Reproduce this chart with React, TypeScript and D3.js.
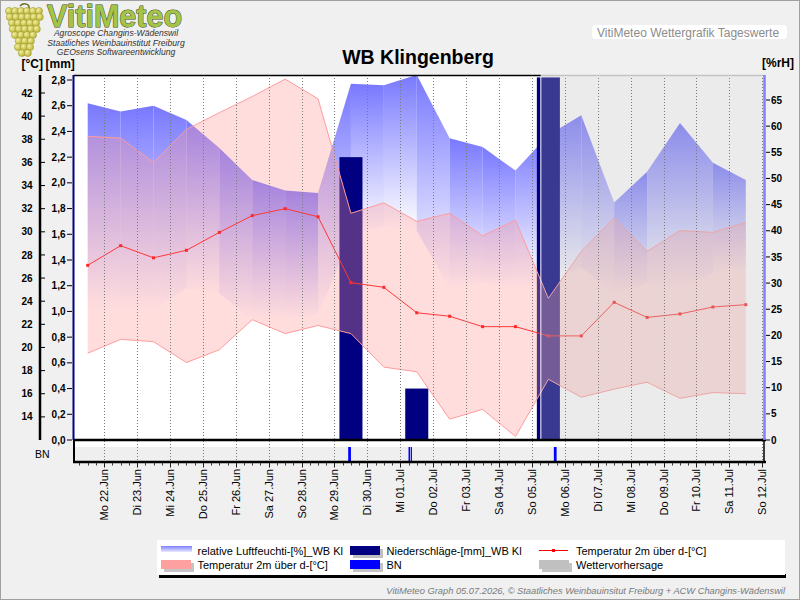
import React, { useEffect, useRef } from "react";
import * as d3 from "d3";

// Tageswerte WB Klingenberg, 21.06. - 11.07.
const days = [
  "2026-06-21", "2026-06-22", "2026-06-23", "2026-06-24", "2026-06-25", "2026-06-26", "2026-06-27",
  "2026-06-28", "2026-06-29", "2026-06-30", "2026-07-01", "2026-07-02", "2026-07-03", "2026-07-04",
  "2026-07-05", "2026-07-06", "2026-07-07", "2026-07-08", "2026-07-09", "2026-07-10", "2026-07-11",
];
const tempMean = [27.1, 28.8, 27.75, 28.4, 29.95, 31.4, 32.0, 31.3, 25.6, 25.2, 23.0, 22.7, 21.8, 21.8, 21.0, 21.0, 23.9, 22.6, 22.9, 23.5, 23.7];
const tempMax = [38.25, 38.1, 36.0, 38.85, 40.3, 41.7, 43.2, 41.5, 31.6, 32.5, 30.9, 31.6, 29.65, 31.0, 24.25, 28.3, 31.2, 28.3, 30.1, 29.95, 30.8];
const tempMin = [19.5, 20.7, 20.5, 18.7, 19.8, 22.4, 21.2, 21.9, 21.2, 18.3, 17.9, 13.8, 14.65, 12.3, 17.25, 15.7, 16.4, 17.0, 15.6, 16.1, 16.0];
const humMax = [64.4, 62.8, 63.9, 61.2, 55.8, 49.7, 47.7, 47.2, 68.1, 67.8, 69.8, 57.7, 56.0, 51.5, 58.3, 62.1, 45.4, 51.3, 60.6, 53.0, 49.7];
const humMin = [25, 25, 25, 29, 28, 23, 23, 24, 39, 41, 40, 29, 30, 29, 30, 33, 28, 30, 29, 32, 33];
const precip = [0, 0, 0, 0, 0, 0, 0, 0, 2.2, 0, 0.4, 0, 0, 0, 2.82, 0, 0, 0, 0, 0, 0];

// Blattnaesse (BN) Ereignisse
const bnEvents = [
  ["2026-06-29 10:00", "2026-06-29 12:00"],
  ["2026-07-01 06:00", "2026-07-01 07:15"],
  ["2026-07-01 07:45", "2026-07-01 08:30"],
  ["2026-07-05 16:00", "2026-07-05 18:00"],
];
const forecastStart = "2026-07-05 06:30";

const dayTicks = [
  "2026-06-22", "2026-06-23", "2026-06-24", "2026-06-25", "2026-06-26", "2026-06-27", "2026-06-28",
  "2026-06-29", "2026-06-30", "2026-07-01", "2026-07-02", "2026-07-03", "2026-07-04", "2026-07-05",
  "2026-07-06", "2026-07-07", "2026-07-08", "2026-07-09", "2026-07-10", "2026-07-11", "2026-07-12",
];
const dayLabels = [
  "Mo 22.Jun", "Di 23.Jun", "Mi 24.Jun", "Do 25.Jun", "Fr 26.Jun", "Sa 27.Jun", "So 28.Jun",
  "Mo 29.Jun", "Di 30.Jun", "Mi 01.Jul", "Do 02.Jul", "Fr 03.Jul", "Sa 04.Jul", "So 05.Jul",
  "Mo 06.Jul", "Di 07.Jul", "Mi 08.Jul", "Do 09.Jul", "Fr 10.Jul", "Sa 11.Jul", "So 12.Jul",
];
const tempTicks = [14, 16, 18, 20, 22, 24, 26, 28, 30, 32, 34, 36, 38, 40, 42];
const mmTicks = [0, 0.2, 0.4, 0.6, 0.8, 1.0, 1.2, 1.4, 1.6, 1.8, 2.0, 2.2, 2.4, 2.6, 2.8];
const humTicks = [0, 5, 10, 15, 20, 25, 30, 35, 40, 45, 50, 55, 60, 65];

const legendRow1 = ["relative Luftfeuchti-[%]_WB Kl", "Niederschläge-[mm]_WB Kl", "Temperatur 2m über d-[°C]"];
const legendRow2 = ["Temperatur 2m über d-[°C]", "BN", "Wettervorhersage"];

const FONT = "'Liberation Sans', Arial, sans-serif";

const App = () => {
  const ref = useRef<SVGSVGElement>(null);

  useEffect(() => {
    document.body.style.margin = "0";
    drawGraph();
  }, []);

  const drawGraph = () => {
    const svg = d3.select(ref.current);
    svg.selectAll("*").remove();
    svg.attr("font-family", FONT);

    const L = 74, R = 765, T = 75, B = 440, SB = 462;
    const parseDay = d3.timeParse("%Y-%m-%d");
    const parseTime = d3.timeParse("%Y-%m-%d %H:%M");
    const noon = (s: string) => d3.timeHour.offset(parseDay(s), 12);

    const x = d3.scaleTime()
      .domain([parseTime("2026-06-21 02:00"), parseTime("2026-07-12 02:00")])
      .range([L, R]);
    const yT = d3.scaleLinear().domain([12, 42]).range([B, 93]);
    const yMm = d3.scaleLinear().domain([0, 2.8]).range([B, 80]);
    const yH = d3.scaleLinear().domain([0, 65]).range([B, 100]);

    // background
    svg.append("rect").attr("x", 0.5).attr("y", 0.5).attr("width", 799).attr("height", 599)
      .attr("fill", "#f0f0f0").attr("stroke", "#a0a0a0");

    const defs = svg.append("defs");
    defs.append("clipPath").attr("id", "plotClip")
      .append("rect").attr("x", L).attr("y", T).attr("width", R - L).attr("height", B - T);
    const hg = defs.append("linearGradient").attr("id", "humGrad")
      .attr("x1", 0).attr("y1", 0).attr("x2", 0).attr("y2", 1);
    hg.append("stop").attr("offset", 0).attr("stop-color", "#7878ff").attr("stop-opacity", 1);
    hg.append("stop").attr("offset", 1).attr("stop-color", "#8080ff").attr("stop-opacity", 0);
    const lg = defs.append("linearGradient").attr("id", "legHum")
      .attr("x1", 0).attr("y1", 0).attr("x2", 0).attr("y2", 1);
    lg.append("stop").attr("offset", 0).attr("stop-color", "#8080ff");
    lg.append("stop").attr("offset", 1).attr("stop-color", "#e8e8ff");
    const gg = defs.append("radialGradient").attr("id", "grape").attr("cx", 0.35).attr("cy", 0.35).attr("r", 0.7);
    gg.append("stop").attr("offset", 0).attr("stop-color", "#f4f0a0");
    gg.append("stop").attr("offset", 1).attr("stop-color", "#b8b030");

    // plot area
    svg.append("rect").attr("x", L).attr("y", T).attr("width", R - L).attr("height", B - T).attr("fill", "#fff");
    const g = svg.append("g").attr("clip-path", "url(#plotClip)");

    // humidity band, one gradient piece per day pair
    const hum = days.map((d, i) => ({ t: noon(d), hi: humMax[i], lo: humMin[i] }));
    const humArea = d3.area<any>().x(d => x(d.t)).y0(d => yH(d.lo)).y1(d => yH(d.hi));
    d3.pairs(hum).forEach(p => {
      g.append("path").attr("d", humArea(p)).attr("fill", "url(#humGrad)");
    });

    // precipitation bars
    days.forEach((d, i) => {
      if (!precip[i]) return;
      const t = noon(d);
      const x0 = x(d3.timeMinute.offset(t, -504));
      const x1 = x(d3.timeMinute.offset(t, 504));
      g.append("rect").attr("x", x0).attr("width", x1 - x0)
        .attr("y", yMm(precip[i])).attr("height", B - yMm(precip[i]))
        .attr("fill", "#000080");
    });

    // temperature band
    const temp = days.map((d, i) => ({ t: noon(d), mean: tempMean[i], hi: tempMax[i], lo: tempMin[i] }));
    g.append("path")
      .attr("d", d3.area<any>().x(d => x(d.t)).y0(d => yT(d.lo)).y1(d => yT(d.hi))(temp))
      .attr("fill", "#ff9898").attr("fill-opacity", 0.33);
    ["hi", "lo"].forEach(k => {
      g.append("path")
        .attr("d", d3.line<any>().x(d => x(d.t)).y(d => yT(d[k]))(temp))
        .attr("fill", "none").attr("stroke", "#ff9c9c").attr("stroke-width", 1);
    });
    g.append("path")
      .attr("d", d3.line<any>().x(d => x(d.t)).y(d => yT(d.mean))(temp))
      .attr("fill", "none").attr("stroke", "#ff3838").attr("stroke-width", 1);
    g.selectAll(".tm").data(temp).enter().append("rect")
      .attr("x", d => x(d.t) - 1.5).attr("y", d => yT(d.mean) - 1.5)
      .attr("width", 3).attr("height", 3).attr("fill", "#ff2828");

    // forecast
    const xf = x(parseTime(forecastStart));
    g.append("rect").attr("x", xf).attr("y", T).attr("width", R - xf).attr("height", B - T)
      .attr("fill", "rgb(190,190,190)").attr("fill-opacity", 0.3);
    g.append("line").attr("x1", xf).attr("x2", xf).attr("y1", T).attr("y2", B)
      .attr("stroke", "#fff").attr("stroke-width", 1);

    // BN strip
    svg.append("rect").attr("x", L).attr("y", B).attr("width", R - L).attr("height", 7).attr("fill", "#fff");
    svg.append("rect").attr("x", L).attr("y", 447).attr("width", R - L).attr("height", SB - 447).attr("fill", "#efefef");
    bnEvents.forEach(([s, e]) => {
      const x0 = x(parseTime(s)), x1 = x(parseTime(e));
      svg.append("rect").attr("x", x0).attr("y", 447).attr("width", x1 - x0).attr("height", SB - 447)
        .attr("fill", "#0000ff");
    });

    // day grid
    dayTicks.forEach(d => {
      const xx = Math.round(x(parseDay(d))) + 0.5;
      svg.append("line").attr("x1", xx).attr("x2", xx).attr("y1", T).attr("y2", SB)
        .attr("stroke", "#7a7a7a").attr("stroke-dasharray", "1,2");
    });

    // frame
    svg.append("line").attr("x1", L).attr("x2", xf).attr("y1", T + 0.5).attr("y2", T + 0.5)
      .attr("stroke", "#000").attr("stroke-width", 1.5);
    svg.append("line").attr("x1", xf).attr("x2", R).attr("y1", T + 0.5).attr("y2", T + 0.5)
      .attr("stroke", "#c4c4c4").attr("stroke-width", 1.5);
    svg.append("line").attr("x1", L - 1).attr("x2", R + 1).attr("y1", B).attr("y2", B)
      .attr("stroke", "#000").attr("stroke-width", 2.5);
    svg.append("line").attr("x1", L - 1).attr("x2", R + 1).attr("y1", SB).attr("y2", SB)
      .attr("stroke", "#000").attr("stroke-width", 2.5);
    svg.append("line").attr("x1", L).attr("x2", L).attr("y1", B).attr("y2", SB)
      .attr("stroke", "#000").attr("stroke-width", 2);
    svg.append("line").attr("x1", R - 1).attr("x2", R - 1).attr("y1", B).attr("y2", SB)
      .attr("stroke", "#000").attr("stroke-width", 1.5);

    // x ticks
    x.ticks(d3.timeHour.every(6)).forEach(t => {
      const xx = Math.round(x(t)) + 0.5;
      svg.append("line").attr("x1", xx).attr("x2", xx).attr("y1", SB + 1).attr("y2", SB + 3.5)
        .attr("stroke", "#404040");
    });
    dayTicks.forEach((d, i) => {
      const xx = Math.round(x(parseDay(d))) + 0.5;
      svg.append("line").attr("x1", xx).attr("x2", xx).attr("y1", SB + 1).attr("y2", SB + 5.5)
        .attr("stroke", "#202020");
      svg.append("text").attr("transform", `translate(${xx},469) rotate(-90)`)
        .attr("text-anchor", "end").attr("dy", "0.36em")
        .attr("font-size", 11).attr("fill", "#000").text(dayLabels[i]);
    });

    // temperature axis
    svg.append("line").attr("x1", 40).attr("x2", 40).attr("y1", T).attr("y2", B)
      .attr("stroke", "#000").attr("stroke-width", 2.5);
    tempTicks.forEach(v => {
      svg.append("line").attr("x1", 41).attr("x2", 45).attr("y1", yT(v)).attr("y2", yT(v)).attr("stroke", "#000");
      svg.append("text").attr("x", 32.5).attr("y", yT(v)).attr("dy", "0.36em").attr("text-anchor", "end")
        .attr("font-size", 10).attr("font-weight", "bold").text(v);
    });

    // precipitation axis
    svg.append("line").attr("x1", 73.5).attr("x2", 73.5).attr("y1", T).attr("y2", B)
      .attr("stroke", "#000080").attr("stroke-width", 2);
    mmTicks.forEach(v => {
      svg.append("line").attr("x1", 67).attr("x2", 72).attr("y1", yMm(v)).attr("y2", yMm(v)).attr("stroke", "#000");
      svg.append("text").attr("x", 65.5).attr("y", yMm(v)).attr("dy", "0.36em").attr("text-anchor", "end")
        .attr("font-size", 10).attr("font-weight", "bold").text(d3.format(".1f")(v).replace(".", ","));
    });

    // humidity axis
    svg.append("line").attr("x1", 764.5).attr("x2", 764.5).attr("y1", T).attr("y2", B)
      .attr("stroke", "#8080ff").attr("stroke-width", 2.5);
    humTicks.forEach(v => {
      svg.append("line").attr("x1", 766).attr("x2", 770).attr("y1", yH(v)).attr("y2", yH(v)).attr("stroke", "#000");
      svg.append("text").attr("x", 771).attr("y", yH(v)).attr("dy", "0.36em")
        .attr("font-size", 10).attr("font-weight", "bold").text(v);
    });

    // axis titles
    const bold = (s: string, xx: number, yy: number, size = 12) =>
      svg.append("text").attr("x", xx).attr("y", yy).attr("font-size", size).attr("font-weight", "bold").text(s);
    bold("[°C]", 21.5, 68);
    bold("[mm]", 45.5, 68);
    bold("[%rH]", 762, 67);
    svg.append("text").attr("x", 35).attr("y", 458).attr("font-size", 10.5).text("BN");

    // title
    svg.append("text").attr("x", 418).attr("y", 64).attr("text-anchor", "middle")
      .attr("font-size", 19.5).attr("font-weight", "bold").text("WB Klingenberg");

    // header label
    svg.append("rect").attr("x", 592).attr("y", 25).attr("width", 195).attr("height", 14).attr("rx", 4).attr("fill", "#fff");
    svg.append("text").attr("x", 597).attr("y", 36.5).attr("font-size", 12).attr("fill", "#8c8c8c")
      .text("VitiMeteo Wettergrafik Tageswerte");

    // logo
    const logo = svg.append("g");
    logo.append("path").attr("d", "M20,6 C24,2 30,4 29,9").attr("stroke", "#6a6a20").attr("fill", "none").attr("stroke-width", 1.5);
    d3.range(8).forEach(r => {
      const n = [6, 6, 5, 5, 4, 3, 3, 2][r];
      d3.range(n).forEach(c => {
        logo.append("circle")
          .attr("cx", 24 - (n - 1) * 3 + c * 6 + (r % 2) * 0.8)
          .attr("cy", 11 + r * 6)
          .attr("r", 3.6)
          .attr("fill", "url(#grape)").attr("stroke", "#9a9628").attr("stroke-width", 0.5);
      });
    });
    logo.append("text").attr("x", 47).attr("y", 27).attr("font-size", 30.5).attr("font-weight", "bold")
      .attr("fill", "#a4c448").attr("stroke", "#3e4a1c").attr("stroke-width", 1).attr("paint-order", "stroke")
      .text("VitiMeteo");
    ["Agroscope Changins-Wädenswil", "Staatliches Weinbauinstitut Freiburg", "GEOsens Softwareentwicklung"]
      .forEach((s, i) => {
        logo.append("text").attr("x", 116).attr("y", 36 + i * 9.6).attr("text-anchor", "middle")
          .attr("font-size", 8.6).attr("font-style", "italic").attr("fill", "#333").text(s);
      });

    // legend
    svg.append("rect").attr("x", 159).attr("y", 574).attr("width", 627).attr("height", 4).attr("fill", "#000");
    svg.append("rect").attr("x", 157).attr("y", 540).attr("width", 628).attr("height", 35).attr("fill", "#fff");
    const cols = [161, 350, 539];
    const textX = [197.5, 386.5, 576];
    const r1 = 546, r2 = 560;
    // row 1 swatches
    svg.append("rect").attr("x", cols[0]).attr("y", r1).attr("width", 31).attr("height", 6).attr("fill", "url(#legHum)");
    svg.append("rect").attr("x", cols[1] + 3).attr("y", r1 + 3).attr("width", 30).attr("height", 9).attr("fill", "#c0c0c0");
    svg.append("rect").attr("x", cols[1]).attr("y", r1).attr("width", 30).attr("height", 9).attr("fill", "#000080");
    svg.append("line").attr("x1", cols[2]).attr("x2", cols[2] + 29).attr("y1", 550.5).attr("y2", 550.5).attr("stroke", "#ff0000");
    svg.append("rect").attr("x", cols[2] + 13).attr("y", 549).attr("width", 3).attr("height", 3).attr("fill", "#ff0000");
    // row 2 swatches
    const sw2 = ["#ffa0a0", "#0000ff", "#c0c0c0"];
    cols.forEach((cx, i) => {
      svg.append("rect").attr("x", cx + 3).attr("y", r2 + 3).attr("width", 30).attr("height", 9).attr("fill", "#c4c4c4");
      svg.append("rect").attr("x", cx).attr("y", r2).attr("width", 30).attr("height", 9).attr("fill", sw2[i]);
    });
    legendRow1.forEach((s, i) => {
      svg.append("text").attr("x", textX[i]).attr("y", 554.5).attr("font-size", 11).text(s);
    });
    legendRow2.forEach((s, i) => {
      svg.append("text").attr("x", textX[i]).attr("y", 568.5).attr("font-size", 11).text(s);
    });

    // footer
    svg.append("text").attr("x", 785).attr("y", 594).attr("text-anchor", "end")
      .attr("font-size", 9.3).attr("font-style", "italic").attr("fill", "#7a7a7a")
      .text("VitiMeteo Graph 05.07.2026, © Staatliches Weinbauinsitut Freiburg + ACW Changins-Wädenswil");
  };

  return <svg ref={ref} width={800} height={600} style={{ display: "block" }} />;
};

export default App;
